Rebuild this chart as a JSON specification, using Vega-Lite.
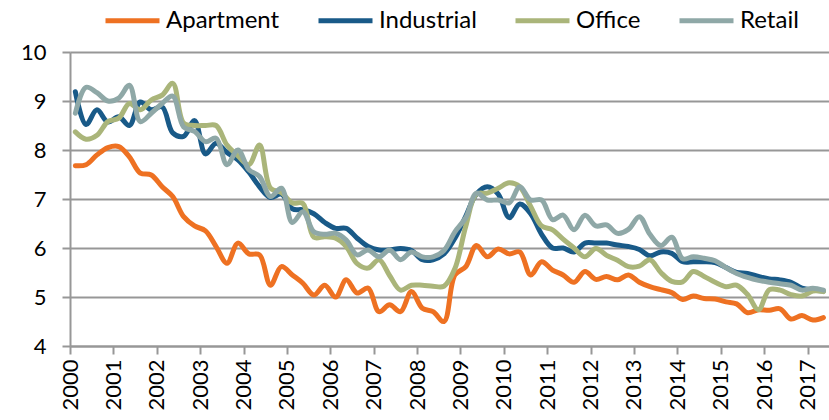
{
  "$schema": "https://vega.github.io/schema/vega-lite/v6.json",
  "width": 759,
  "height": 294,
  "autosize": {"type": "none"},
  "padding": {"left": 70, "top": 52, "right": 0, "bottom": 74},
  "background": "white",
  "config": {
    "view": {"stroke": null},
    "font": "Lato",
    "axis": {"labelFont": "Lato", "labelColor": "#000000", "labelFontSize": 22, "domainColor": "#979797", "domainWidth": 2, "tickColor": "#979797", "tickWidth": 2, "tickSize": 8, "gridColor": "#979797", "gridWidth": 2, "title": null}
  },
  "data": {
    "values": [
      {"date": "2000-02-15", "Apartment": 7.68, "Industrial": 9.19, "Office": 8.37, "Retail": 8.75},
      {"date": "2000-05-15", "Apartment": 7.70, "Industrial": 8.52, "Office": 8.22, "Retail": 9.28},
      {"date": "2000-08-15", "Apartment": 7.90, "Industrial": 8.82, "Office": 8.30, "Retail": 9.17},
      {"date": "2000-11-15", "Apartment": 8.05, "Industrial": 8.57, "Office": 8.58, "Retail": 9.00},
      {"date": "2001-02-15", "Apartment": 8.07, "Industrial": 8.68, "Office": 8.65, "Retail": 9.06},
      {"date": "2001-05-15", "Apartment": 7.86, "Industrial": 8.50, "Office": 8.95, "Retail": 9.32},
      {"date": "2001-08-15", "Apartment": 7.53, "Industrial": 8.98, "Office": 8.82, "Retail": 8.58},
      {"date": "2001-11-15", "Apartment": 7.49, "Industrial": 8.82, "Office": 9.02, "Retail": 8.75},
      {"date": "2002-02-15", "Apartment": 7.25, "Industrial": 8.88, "Office": 9.12, "Retail": 8.95},
      {"date": "2002-05-15", "Apartment": 7.05, "Industrial": 8.35, "Office": 9.36, "Retail": 9.10},
      {"date": "2002-08-15", "Apartment": 6.64, "Industrial": 8.28, "Office": 8.55, "Retail": 8.47},
      {"date": "2002-11-15", "Apartment": 6.45, "Industrial": 8.60, "Office": 8.50, "Retail": 8.38},
      {"date": "2003-02-15", "Apartment": 6.35, "Industrial": 7.92, "Office": 8.50, "Retail": 8.17},
      {"date": "2003-05-15", "Apartment": 6.03, "Industrial": 8.14, "Office": 8.50, "Retail": 8.24},
      {"date": "2003-08-15", "Apartment": 5.69, "Industrial": 7.95, "Office": 8.10, "Retail": 7.70},
      {"date": "2003-11-15", "Apartment": 6.10, "Industrial": 7.80, "Office": 7.88, "Retail": 8.00},
      {"date": "2004-02-15", "Apartment": 5.88, "Industrial": 7.55, "Office": 7.70, "Retail": 7.60},
      {"date": "2004-05-15", "Apartment": 5.86, "Industrial": 7.25, "Office": 8.10, "Retail": 7.46},
      {"date": "2004-08-15", "Apartment": 5.24, "Industrial": 7.03, "Office": 7.22, "Retail": 7.05},
      {"date": "2004-11-15", "Apartment": 5.62, "Industrial": 7.10, "Office": 7.13, "Retail": 7.22},
      {"date": "2005-02-15", "Apartment": 5.45, "Industrial": 6.80, "Office": 6.92, "Retail": 6.52},
      {"date": "2005-05-15", "Apartment": 5.28, "Industrial": 6.78, "Office": 6.91, "Retail": 6.74},
      {"date": "2005-08-15", "Apartment": 5.04, "Industrial": 6.70, "Office": 6.22, "Retail": 6.33},
      {"date": "2005-11-15", "Apartment": 5.24, "Industrial": 6.52, "Office": 6.23, "Retail": 6.28},
      {"date": "2006-02-15", "Apartment": 5.00, "Industrial": 6.40, "Office": 6.20, "Retail": 6.30},
      {"date": "2006-05-15", "Apartment": 5.35, "Industrial": 6.40, "Office": 6.03, "Retail": 6.16},
      {"date": "2006-08-15", "Apartment": 5.08, "Industrial": 6.20, "Office": 5.68, "Retail": 5.86},
      {"date": "2006-11-15", "Apartment": 5.18, "Industrial": 6.03, "Office": 5.59, "Retail": 5.96},
      {"date": "2007-02-15", "Apartment": 4.70, "Industrial": 5.96, "Office": 5.76, "Retail": 5.82},
      {"date": "2007-05-15", "Apartment": 4.84, "Industrial": 5.96, "Office": 5.44, "Retail": 5.96},
      {"date": "2007-08-15", "Apartment": 4.70, "Industrial": 5.99, "Office": 5.14, "Retail": 5.76},
      {"date": "2007-11-15", "Apartment": 5.11, "Industrial": 5.95, "Office": 5.24, "Retail": 5.92},
      {"date": "2008-02-15", "Apartment": 4.77, "Industrial": 5.76, "Office": 5.24, "Retail": 5.82},
      {"date": "2008-05-15", "Apartment": 4.70, "Industrial": 5.76, "Office": 5.22, "Retail": 5.82},
      {"date": "2008-08-15", "Apartment": 4.50, "Industrial": 5.88, "Office": 5.22, "Retail": 5.95},
      {"date": "2008-11-15", "Apartment": 5.45, "Industrial": 6.20, "Office": 5.58, "Retail": 6.33},
      {"date": "2009-02-15", "Apartment": 5.62, "Industrial": 6.65, "Office": 6.45, "Retail": 6.62},
      {"date": "2009-05-15", "Apartment": 6.05, "Industrial": 7.10, "Office": 7.10, "Retail": 7.12},
      {"date": "2009-08-15", "Apartment": 5.82, "Industrial": 7.25, "Office": 7.12, "Retail": 6.98},
      {"date": "2009-11-15", "Apartment": 5.98, "Industrial": 7.10, "Office": 7.22, "Retail": 6.98},
      {"date": "2010-02-15", "Apartment": 5.88, "Industrial": 6.62, "Office": 7.33, "Retail": 6.92},
      {"date": "2010-05-15", "Apartment": 5.92, "Industrial": 6.90, "Office": 7.25, "Retail": 7.25},
      {"date": "2010-08-15", "Apartment": 5.45, "Industrial": 6.70, "Office": 6.85, "Retail": 6.98},
      {"date": "2010-11-15", "Apartment": 5.72, "Industrial": 6.28, "Office": 6.45, "Retail": 6.98},
      {"date": "2011-02-15", "Apartment": 5.55, "Industrial": 6.00, "Office": 6.37, "Retail": 6.58},
      {"date": "2011-05-15", "Apartment": 5.45, "Industrial": 6.00, "Office": 6.18, "Retail": 6.67},
      {"date": "2011-08-15", "Apartment": 5.30, "Industrial": 5.92, "Office": 6.00, "Retail": 6.37},
      {"date": "2011-11-15", "Apartment": 5.52, "Industrial": 6.10, "Office": 5.82, "Retail": 6.67},
      {"date": "2012-02-15", "Apartment": 5.36, "Industrial": 6.10, "Office": 5.99, "Retail": 6.45},
      {"date": "2012-05-15", "Apartment": 5.42, "Industrial": 6.10, "Office": 5.85, "Retail": 6.47},
      {"date": "2012-08-15", "Apartment": 5.35, "Industrial": 6.06, "Office": 5.75, "Retail": 6.30},
      {"date": "2012-11-15", "Apartment": 5.45, "Industrial": 6.03, "Office": 5.62, "Retail": 6.38},
      {"date": "2013-02-15", "Apartment": 5.30, "Industrial": 5.97, "Office": 5.63, "Retail": 6.64},
      {"date": "2013-05-15", "Apartment": 5.21, "Industrial": 5.84, "Office": 5.76, "Retail": 6.28},
      {"date": "2013-08-15", "Apartment": 5.15, "Industrial": 5.92, "Office": 5.50, "Retail": 6.05},
      {"date": "2013-11-15", "Apartment": 5.09, "Industrial": 5.89, "Office": 5.32, "Retail": 6.22},
      {"date": "2014-02-15", "Apartment": 4.95, "Industrial": 5.72, "Office": 5.31, "Retail": 5.78},
      {"date": "2014-05-15", "Apartment": 5.02, "Industrial": 5.72, "Office": 5.52, "Retail": 5.82},
      {"date": "2014-08-15", "Apartment": 4.97, "Industrial": 5.72, "Office": 5.42, "Retail": 5.79},
      {"date": "2014-11-15", "Apartment": 4.96, "Industrial": 5.70, "Office": 5.30, "Retail": 5.74},
      {"date": "2015-02-15", "Apartment": 4.90, "Industrial": 5.60, "Office": 5.21, "Retail": 5.60},
      {"date": "2015-05-15", "Apartment": 4.86, "Industrial": 5.50, "Office": 5.24, "Retail": 5.48},
      {"date": "2015-08-15", "Apartment": 4.68, "Industrial": 5.48, "Office": 5.05, "Retail": 5.40},
      {"date": "2015-11-15", "Apartment": 4.74, "Industrial": 5.42, "Office": 4.74, "Retail": 5.34},
      {"date": "2016-02-15", "Apartment": 4.73, "Industrial": 5.37, "Office": 5.15, "Retail": 5.30},
      {"date": "2016-05-15", "Apartment": 4.76, "Industrial": 5.35, "Office": 5.14, "Retail": 5.27},
      {"date": "2016-08-15", "Apartment": 4.55, "Industrial": 5.30, "Office": 5.05, "Retail": 5.24},
      {"date": "2016-11-15", "Apartment": 4.62, "Industrial": 5.18, "Office": 5.02, "Retail": 5.14},
      {"date": "2017-02-15", "Apartment": 4.53, "Industrial": 5.14, "Office": 5.12, "Retail": 5.18},
      {"date": "2017-05-15", "Apartment": 4.58, "Industrial": 5.12, "Office": 5.11, "Retail": 5.14}
    ]
  },
  "transform": [
    {"fold": ["Apartment", "Industrial", "Office", "Retail"], "as": ["series", "value"]}
  ],
  "mark": {"type": "line", "interpolate": "catmull-rom", "strokeWidth": 5, "strokeCap": "round", "strokeJoin": "round"},
  "encoding": {
    "x": {
      "field": "date",
      "type": "temporal",
      "scale": {"type": "utc", "domain": [{"year": 2000, "month": 1, "date": 1, "utc": true}, {"year": 2017, "month": 7, "date": 1, "utc": true}], "nice": false},
      "axis": {"format": "%Y", "formatType": "utc", "tickCount": {"interval": "year", "step": 1}, "labelAngle": 270, "labelAlign": "right", "labelBaseline": "middle", "labelPadding": 5, "grid": false, "labelOverlap": false, "labelBound": false, "labelFlush": false}
    },
    "y": {
      "field": "value",
      "type": "quantitative",
      "scale": {"domain": [4, 10], "nice": false, "zero": false},
      "axis": {"values": [4, 5, 6, 7, 8, 9, 10], "grid": true, "labelPadding": 16}
    },
    "color": {
      "field": "series",
      "type": "nominal",
      "scale": {"domain": ["Apartment", "Industrial", "Office", "Retail"], "range": ["#EE7122", "#195A88", "#AAB57A", "#8FA8A7"]},
      "legend": {"title": null, "orient": "none", "direction": "horizontal", "legendX": 33, "legendY": -61, "symbolType": "stroke", "symbolSize": 2916, "symbolStrokeWidth": 5, "labelFont": "Lato", "labelFontSize": 24, "labelColor": "#000000", "labelOffset": 4, "columnPadding": 28}
    }
  }
}
